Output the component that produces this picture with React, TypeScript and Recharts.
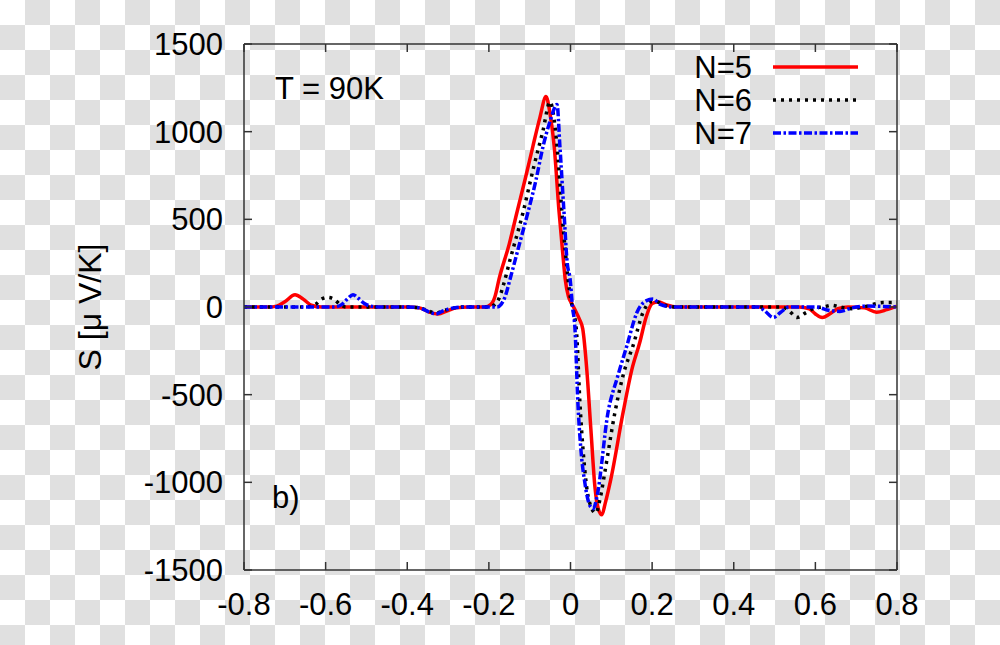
import React from 'react';
import { LineChart, Line, XAxis, YAxis, Legend } from 'recharts';

const xTicks = [-0.8, -0.6, -0.4, -0.2, 0, 0.2, 0.4, 0.6, 0.8];
const yTicks = [-1500, -1000, -500, 0, 500, 1000, 1500];
const seriesNames = ['N=5', 'N=6', 'N=7'];
const annotationTemp = 'T = 90K';
const annotationPanel = 'b)';
const yAxisTitle = 'S [μ V/K]';

const n5X = [-0.8, -0.74, -0.72, -0.7, -0.675, -0.655, -0.635, -0.61, -0.4, -0.37, -0.345, -0.325, -0.3, -0.28, -0.25,
  -0.21, -0.195, -0.185, -0.175, -0.15, -0.131, -0.11, -0.092, -0.075, -0.06, -0.05, -0.04, -0.028, -0.018, -0.013,
  -0.005, 0.003, 0.012, 0.022, 0.03, 0.04, 0.05, 0.06, 0.068, 0.077, 0.085, 0.099, 0.129, 0.15, 0.17, 0.185, 0.2,
  0.215, 0.235, 0.26, 0.56, 0.585, 0.6, 0.617, 0.635, 0.655, 0.68, 0.72, 0.75, 0.775, 0.8];
const n5Y = [0, 0, 5, 30, 70, 45, 10, 0, 0, -5, -30, -40, -20, -5, 0,
  0, 15, 60, 160, 360, 542, 740, 918, 1080, 1200, 1100, 918, 542, 280, 160,
  60, 20, -20, -70, -125, -360, -700, -1030, -1150, -1185, -1120, -980, -600, -360, -200, -60, 20,
  30, 12, 0, 0, -10, -40, -60, -40, -10, 0, -5, -30, -15, 5];

const n6X = [-0.8, -0.65, -0.625, -0.61, -0.595, -0.58, -0.565, -0.55, -0.4, -0.37, -0.345, -0.33, -0.31, -0.285, -0.26,
  -0.2, -0.185, -0.175, -0.165, -0.148, -0.116, -0.09, -0.068, -0.05, -0.042, -0.033, -0.021, -0.012, -0.006, 0,
  0.008, 0.015, 0.023, 0.032, 0.045, 0.062, 0.072, 0.085, 0.109, 0.13, 0.153, 0.178, 0.196, 0.21, 0.23, 0.26,
  0.52, 0.535, 0.555, 0.575, 0.6, 0.62, 0.64, 0.66, 0.69, 0.726, 0.766, 0.8];
const n6Y = [0, 0, 15, 45, 55, 45, 15, 0, 0, -5, -25, -35, -20, -5, 0,
  0, 15, 50, 120, 270, 542, 800, 1000, 1170, 1100, 918, 542, 300, 160, 50,
  -30, -150, -542, -850, -1100, -1175, -1100, -930, -600, -380, -222, -30, 30, 30, 10, 0,
  0, -20, -60, -35, -5, 0, 10, 0, -10, 5, 25, 25];

const n7X = [-0.8, -0.58, -0.56, -0.545, -0.533, -0.52, -0.505, -0.49, -0.47, -0.4, -0.37, -0.345, -0.33, -0.31, -0.285,
  -0.26, -0.18, -0.17, -0.16, -0.148, -0.125, -0.104, -0.085, -0.067, -0.05, -0.033, -0.026, -0.016, -0.008, -0.001,
  0.005, 0.011, 0.018, 0.025, 0.035, 0.048, 0.056, 0.065, 0.092, 0.115, 0.138, 0.163, 0.185, 0.202, 0.22, 0.25,
  0.46, 0.475, 0.497, 0.515, 0.535, 0.6, 0.635, 0.66, 0.69, 0.726, 0.8];
const n7Y = [0, 0, 15, 50, 70, 50, 20, 5, 0, 0, -5, -30, -40, -20, -5,
  0, 0, 15, 60, 160, 360, 542, 720, 918, 1060, 1155, 918, 542, 250, 160,
  0, -125, -542, -800, -1000, -1135, -1150, -1080, -600, -400, -222, -30, 35, 45, 15, 0,
  0, -20, -60, -30, 0, 0, -20, -25, -5, 5, 0];

const toPoints = (xs: number[], ys: number[]) => xs.map((x, i) => ({ x, y: ys[i] }));
const series = [
  { name: seriesNames[0], data: toPoints(n5X, n5Y), color: '#ff0000', dash: undefined as string | undefined },
  { name: seriesNames[1], data: toPoints(n6X, n6Y), color: '#000000', dash: '3 5' },
  { name: seriesNames[2], data: toPoints(n7X, n7Y), color: '#0000ff', dash: '8 2.5 2.5 2.5' },
];

const FONT = '"Liberation Sans", Arial, Helvetica, sans-serif';
const FRAME = '#333333';

const BottomTick = (props: any) => {
  const { x, y, payload } = props;
  return (
    <g>
      <line x1={x} y1={y} x2={x} y2={y - 8} stroke={FRAME} strokeWidth={1.5} />
      <text x={x} y={y + 45} textAnchor="middle" fontSize={31} fontFamily={FONT} fill="#000">{String(payload.value)}</text>
    </g>
  );
};
const TopTick = (props: any) => {
  const { x, y } = props;
  return <line x1={x} y1={y} x2={x} y2={y + 8} stroke={FRAME} strokeWidth={1.5} />;
};
const LeftTick = (props: any) => {
  const { x, y, payload } = props;
  return (
    <g>
      <line x1={x} y1={y} x2={x + 8} y2={y} stroke={FRAME} strokeWidth={1.5} />
      <text x={x - 21} y={y + 11} textAnchor="end" fontSize={31} fontFamily={FONT} fill="#000">{String(payload.value)}</text>
    </g>
  );
};
const RightTick = (props: any) => {
  const { x, y } = props;
  return <line x1={x} y1={y} x2={x - 8} y2={y} stroke={FRAME} strokeWidth={1.5} />;
};

const LegendContent = () => (
  <svg width={200} height={110} style={{ overflow: 'visible' }}>
    {series.map((s, i) => (
      <g key={s.name}>
        <text x={72} y={17 + i * 33 + 11} textAnchor="end" fontSize={31} fontFamily={FONT} fill="#000">{s.name}</text>
        <line x1={93} x2={178} y1={17 + i * 33} y2={17 + i * 33} stroke={s.color} strokeWidth={3.5} strokeDasharray={s.dash} />
      </g>
    ))}
  </svg>
);

export default function App() {
  return (
    <div
      style={{
        position: 'absolute', left: 0, top: 0, width: 1000, height: 645,
        background: 'repeating-conic-gradient(#e0e0e0 0% 25%, #ffffff 0% 50%) 0 0 / 50px 50px',
      }}
    >
      <LineChart width={1000} height={645} margin={{ top: 43, right: 102, bottom: 35, left: 184 }} style={{ overflow: 'visible' }}>
        <XAxis xAxisId="b" dataKey="x" type="number" domain={[-0.8, 0.8]} ticks={xTicks} interval={0}
          allowDataOverflow height={40} tickSize={0} tickMargin={0} tickLine={false}
          axisLine={{ stroke: FRAME, strokeWidth: 1.5 }} tick={<BottomTick />} />
        <XAxis xAxisId="t" orientation="top" dataKey="x" type="number" domain={[-0.8, 0.8]} ticks={xTicks} interval={0}
          allowDataOverflow height={1} tickSize={0} tickMargin={0} tickLine={false}
          axisLine={{ stroke: FRAME, strokeWidth: 1.5 }} tick={<TopTick />} />
        <YAxis yAxisId="l" type="number" domain={[-1500, 1500]} ticks={yTicks} interval={0} allowDataOverflow
          width={60} tickSize={0} tickMargin={0} tickLine={false}
          axisLine={{ stroke: FRAME, strokeWidth: 1.5 }} tick={<LeftTick />} />
        <YAxis yAxisId="r" orientation="right" type="number" domain={[-1500, 1500]} ticks={yTicks} interval={0} allowDataOverflow
          width={1} tickSize={0} tickMargin={0} tickLine={false}
          axisLine={{ stroke: FRAME, strokeWidth: 1.5 }} tick={<RightTick />} />
        {series.map((s) => (
          <Line key={s.name} xAxisId="b" yAxisId="l" data={s.data} dataKey="y" name={s.name} type="monotone"
            stroke={s.color} strokeWidth={3.5} strokeDasharray={s.dash} dot={false} activeDot={false}
            isAnimationActive={false} />
        ))}
        <Legend layout="horizontal" verticalAlign="middle" align="center" content={<LegendContent />}
          wrapperStyle={{ position: 'absolute', left: 680, top: 50, width: 200, height: 110 }} />
      </LineChart>
      <svg width={1000} height={645} style={{ position: 'absolute', left: 0, top: 0, pointerEvents: 'none' }}>
        <text x={275} y={99} fontSize={31} fontFamily={FONT} fill="#000">{annotationTemp}</text>
        <text x={272} y={508} fontSize={31} fontFamily={FONT} fill="#000">{annotationPanel}</text>
        <text transform="translate(101,307) rotate(-90)" textAnchor="middle" fontSize={32} fontFamily={FONT} fill="#000">{yAxisTitle}</text>
      </svg>
    </div>
  );
}
